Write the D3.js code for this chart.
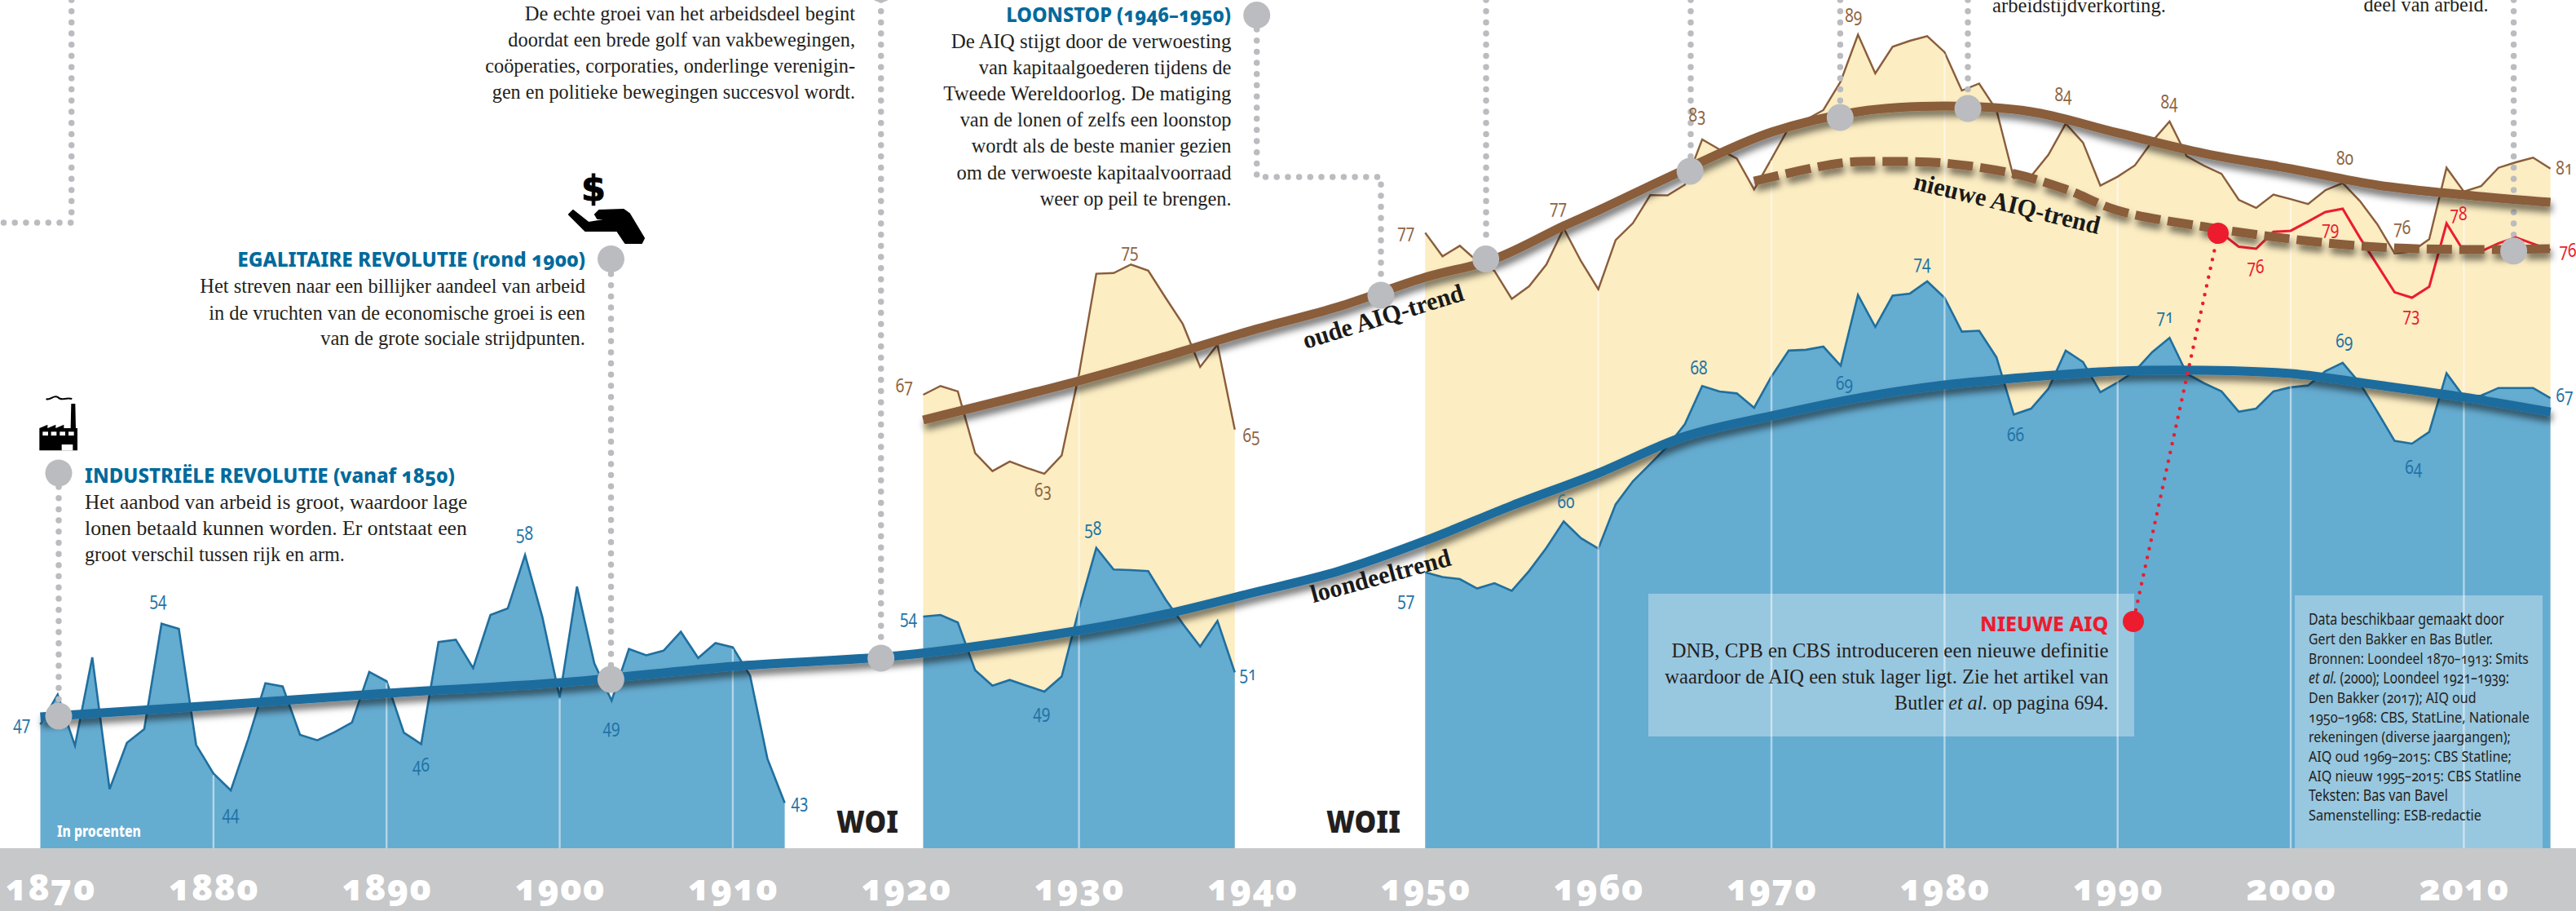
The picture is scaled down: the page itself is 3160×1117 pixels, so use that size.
<!DOCTYPE html>
<html>
<head>
<meta charset="utf-8">
<script src="https://d3js.org/d3.v7.min.js"></script>
<style>
  html, body { margin: 0; padding: 0; background: #fff; overflow: hidden; }
  svg { display: block; }
  .body { font-family: "Liberation Serif", serif; font-size: 26px; fill: #231f20; }
  .title { font-family: "Noto Sans", sans-serif; font-weight: 800; font-size: 25px; font-feature-settings: "onum"; }
  .proc { font-family: "Noto Sans", sans-serif; font-weight: 800; font-size: 19px; fill: #fff; }
  .small { font-family: "Noto Sans", sans-serif; font-size: 19px; fill: #231f20; font-feature-settings: "onum"; }
  .val { font-family: "Noto Sans", sans-serif; font-size: 24px; font-feature-settings: "onum"; }
  .trendname { font-family: "Liberation Serif", serif; font-weight: bold; font-size: 31px; fill: #1a1a1a; }
  .war { font-family: "Noto Sans", sans-serif; font-weight: 900; font-size: 36.5px; fill: #231f20; }
  .tick text { font-family: "Noto Sans", sans-serif; font-weight: 900; font-size: 44px; letter-spacing: 1px; fill: #fff; font-feature-settings: "onum"; }
</style>
</head>
<body>
<div class="chart-holder"></div>
<script>
// loondeel, in procenten, per jaar
const loondeel1870 = [47.72,49.53,46.44,51.79,43.81,46.62,47.44,53.82,53.51,46.49,44.76,43.74,46.82,50.22,50.02,47.10,46.77,47.26,47.84,50.90,50.34,47.23,46.54,52.71,52.85,51.13,54.35,54.74,57.98,54.22,49.37,56.06,51.42,49.17,52.29,51.91,52.19,53.33,51.75,52.65,52.39,50.68,45.66,42.98]
const loondeel1921 = [54.25,54.35,53.89,51.01,50.07,50.42,50.06,49.71,50.62,54.71,58.41,57.10,57.06,57.00,55.29,53.81,52.44,53.99,50.88]
const loondeel1950 = [56.93,56.64,56.52,55.95,56.27,55.81,57.01,58.41,60.01,58.99,58.36,61.04,62.44,63.48,64.56,65.89,68.20,67.87,67.75,66.88,68.77,70.34,70.39,70.58,69.43,73.71,71.77,73.66,73.79,74.53,73.54,71.49,71.54,69.93,66.47,66.83,68.03,70.34,69.65,67.82,68.41,69.10,70.25,71.11,68.94,68.36,67.87,66.64,66.83,67.87,68.12,68.23,69.10,69.60,68.36,66.64,64.88,64.71,65.42,68.97,67.54,67.62,68.08,68.08,68.08,67.46]

// arbeidsinkomensquote (oud)
const aiq1921 = [67.67,68.20,67.87,64.14,63.05,63.63,63.24,62.89,64.00,68.92,74.99,75.03,75.55,75.18,73.54,71.94,69.35,70.70,65.56]
const aiq1950 = [77.47,76.04,76.68,75.75,75.16,73.47,74.23,75.55,77.74,75.75,74.05,77.02,78.05,79.74,79.73,80.37,83.11,82.51,81.96,80.09,81.93,83.82,84.31,84.89,86.62,89.45,87.11,88.72,89.08,89.36,88.39,86.07,86.49,84.89,80.78,80.89,82.18,84.07,82.92,80.32,80.86,81.55,83.00,84.20,82.09,81.52,81.03,79.46,78.97,79.78,79.50,79.20,80.04,80.48,79.38,77.98,76.22,76.34,77.08,81.40,79.96,80.29,81.40,81.73,82.01,81.35]

// nieuwe AIQ 1996-2015
const aiqNieuw1996 = [77.44,76.62,76.50,77.52,77.59,78.15,78.72,78.92,77.16,75.52,73.87,73.54,74.20,78.03,76.34,76.34,76.83,77.19,76.80,76.42]

// trends: [jaar, waarde]
const trendLoondeel = [[1870,48.18],[1880,48.87],[1890,49.61],[1900,50.25],[1910,51.24],[1920,51.93],[1930,53.41],[1935,54.40],[1940,55.68],[1945,57.00],[1950,58.84],[1955,60.96],[1960,62.93],[1965,65.15],[1970,66.39],[1975,67.47],[1980,68.26],[1985,68.75],[1990,69.10],[1995,69.15],[2000,68.95],[2005,68.26],[2010,67.52],[2015,66.63]]
const trendAiqOud = [[1921,66.14],[1930,68.51],[1935,69.99],[1940,71.57],[1945,73.00],[1950,74.77],[1954,75.88],[1958,77.88],[1960,78.82],[1965,81.29],[1970,83.55],[1975,84.79],[1980,85.13],[1985,84.79],[1990,83.51],[1995,82.27],[2000,81.34],[2005,80.35],[2010,79.76],[2015,79.31]]
const trendAiqNieuw = [[1969,80.59],[1974,81.68],[1977,81.78],[1980,81.68],[1984,81.04],[1987,80.10],[1990,78.82],[1995,77.83],[2000,77.09],[2005,76.60],[2010,76.45],[2015,76.50]]

// grijze stippen op de trends
const eventPoints = [[1871.06,48.23],[1902.96,50.45],[1918.56,51.73],[1947.44,73.69],[1953.5,75.88],[1965.3,81.19],[1973.97,84.44],[1981.35,84.98],[2012.88,76.37]]

const yearTicks = [1870,1880,1890,1900,1910,1920,1930,1940,1950,1960,1970,1980,1990,2000,2010]
const gridYears = [1880,1890,1900,1910,1930,1960,1970,1980,1990,2000,2010]

const blueLabels = ['47','54','44','58','46','49','43','54','58','49','51','57','60','68','69','74','71','69','67','66','64']
const brownLabels = ['67','63','75','65','77','77','83','89','84','84','80','76','81']
const redLabels = ['76','79','73','78','76']

const noteTop = ['De echte groei van het arbeidsdeel begint','doordat een brede golf van vakbewegingen,','coöperaties, corporaties, onderlinge verenigin-','gen en politieke bewegingen succesvol wordt.']
const noteEgal = ['Het streven naar een billijker aandeel van arbeid','in de vruchten van de economische groei is een','van de grote sociale strijdpunten.']
const noteInd = ['Het aanbod van arbeid is groot, waardoor lage','lonen betaald kunnen worden. Er ontstaat een','groot verschil tussen rijk en arm.']
const noteStop = ['De AIQ stijgt door de verwoesting','van kapitaalgoederen tijdens de','Tweede Wereldoorlog. De matiging','van de lonen of zelfs een loonstop','wordt als de beste manier gezien','om de verwoeste kapitaalvoorraad','weer op peil te brengen.']
const noteNieuw = ['DNB, CPB en CBS introduceren een nieuwe definitie','waardoor de AIQ een stuk lager ligt. Zie het artikel van','Butler *et al.* op pagina 694.']
const noteData = ['Data beschikbaar gemaakt door','Gert den Bakker en Bas Butler.','Bronnen: Loondeel 1870–1913: Smits','*et al.* (2000); Loondeel 1921–1939:','Den Bakker (2017); AIQ oud','1950–1968: CBS, StatLine, Nationale','rekeningen (diverse jaargangen);','AIQ oud 1969–2015: CBS Statline;','AIQ nieuw 1995–2015: CBS Statline','Teksten: Bas van Bavel','Samenstelling: ESB-redactie']

const width = 3160
const height = 1117
const baseY = 1040

const BLUE = '#65acd1', BLUELINE = '#1f6f9f', TREND_BLUE = '#1b6c9e', CREAM = '#fcedc2', BROWN = '#8a5d3b', GREY = '#bbbcbf', BAND = '#c7c8ca', RED = '#ec1c2e', TITLE = '#006a9c'

const x = d3.scaleLinear().domain([1870, 2015]).range([49.5, 3128.6])
const y = d3.scaleLinear().domain([58, 40.24]).range([680, baseY])

const svg = d3.select('.chart-holder').append('svg').attr('width', width).attr('height', height)

const filt = svg.append('defs').append('filter').attr('id', 'shade')
  .attr('x', '-5%').attr('y', '-30%').attr('width', '110%').attr('height', '170%')
filt.append('feDropShadow').attr('dx', 2).attr('dy', 7).attr('stdDeviation', 4)
  .attr('flood-color', '#000').attr('flood-opacity', 0.55)

function toPoints(values, start) {
  return values.map((d, i) => [start + i, d])
}

const seriesBlue = [toPoints(loondeel1870, 1870), toPoints(loondeel1921, 1921), toPoints(loondeel1950, 1950)]
const seriesBrown = [toPoints(aiq1921, 1921), toPoints(aiq1950, 1950)]

const area = d3.area().x(d => x(d[0])).y0(baseY).y1(d => y(d[1]))
const line = d3.line().x(d => x(d[0])).y(d => y(d[1]))
const smooth = d3.line().x(d => x(d[0])).y(d => y(d[1])).curve(d3.curveCatmullRom)

svg.selectAll('.cream').data(seriesBrown).enter().append('path')
  .attr('d', area).attr('fill', CREAM)
svg.selectAll('.brownline').data(seriesBrown).enter().append('path')
  .attr('d', line).attr('fill', 'none').attr('stroke', BROWN).attr('stroke-width', 2.4)

svg.selectAll('.bluearea').data(seriesBlue).enter().append('path')
  .attr('d', area).attr('fill', BLUE)
svg.selectAll('.blueline').data(seriesBlue).enter().append('path')
  .attr('d', line).attr('fill', 'none').attr('stroke', BLUELINE).attr('stroke-width', 2.6)

// rasterlijnen lopen tot de bovenste reeks van dat jaar
const topValue = new Map()
seriesBlue.concat(seriesBrown).forEach(s => s.forEach(d => {
  topValue.set(d[0], Math.max(topValue.get(d[0]) || 0, d[1]))
}))
svg.selectAll('.grid').data(gridYears).enter().append('line')
  .attr('x1', d => x(d)).attr('x2', d => x(d))
  .attr('y1', baseY).attr('y2', d => y(topValue.get(d)) + 2)
  .attr('stroke', '#fff').attr('stroke-opacity', 0.5).attr('stroke-width', 2.4)

// lichte kaders
svg.append('rect').attr('x', 2022).attr('y', 728).attr('width', 596).attr('height', 175).attr('fill', '#fff').attr('opacity', 0.335)
svg.append('rect').attr('x', 2815).attr('y', 730).attr('width', 304).attr('height', 310).attr('fill', '#fff').attr('opacity', 0.335)

// grijze band en jaren
svg.append('rect').attr('x', 0).attr('y', baseY).attr('width', width).attr('height', height - baseY).attr('fill', BAND)
const axis = d3.axisBottom(x).tickValues(yearTicks).tickFormat(d3.format('d')).tickSize(0)
const axisG = svg.append('g').attr('transform', `translate(0,${baseY})`).call(axis)
axisG.select('.domain').remove()
axisG.selectAll('text').attr('dy', 0).attr('y', 64)
  .attr('dx', d => d === 1870 ? 12 : 0)

// stippellijnen naar de stippen
const dotted = [
  [[87.7, 0], [87.7, 273], [0, 273]],
  [[72, 597], [72, 862]],
  [[749.5, 336], [749.5, 816]],
  [[1080.7, 0], [1080.7, 790]],
  [[1541.7, 36], [1541.7, 217], [1694, 217], [1694, 345]],
  [[1823, 0], [1823, 300]],
  [[2074, 0], [2074, 195]],
  [[2257.4, 0], [2257.4, 130]],
  [[2414, 0], [2414, 118]],
  [[3083.6, 0], [3083.6, 292]]
]
svg.selectAll('.dots').data(dotted).enter().append('path')
  .attr('d', d3.line())
  .attr('fill', 'none').attr('stroke', GREY).attr('stroke-width', 7.5)
  .attr('stroke-linecap', 'round').attr('stroke-dasharray', '0 13.7')

// thin red new AIQ line
svg.append('path').datum(toPoints(aiqNieuw1996, 1996))
  .attr('d', line).attr('fill', 'none').attr('stroke', RED).attr('stroke-width', 3)

// trends
const trendLayer = svg.append('g')
trendLayer.append('path').datum(trendLoondeel).attr('d', smooth).attr('fill', 'none')
  .attr('stroke', TREND_BLUE).attr('stroke-width', 11).attr('filter', 'url(#shade)')
trendLayer.append('path').datum(trendAiqOud).attr('d', smooth).attr('fill', 'none')
  .attr('stroke', BROWN).attr('stroke-width', 11).attr('filter', 'url(#shade)')
trendLayer.append('path').datum(trendAiqNieuw).attr('d', smooth).attr('fill', 'none')
  .attr('stroke', BROWN).attr('stroke-width', 11).attr('stroke-dasharray', '31 9').attr('filter', 'url(#shade)')

// stippen
svg.selectAll('.event').data(eventPoints).enter().append('circle')
  .attr('cx', d => x(d[0])).attr('cy', d => y(d[1])).attr('r', 16.5).attr('fill', GREY)
const headDots = [[72, 580], [749.5, 317.5], [1541.7, 18.6]]
svg.selectAll('.head').data(headDots).enter().append('circle')
  .attr('cx', d => d[0]).attr('cy', d => d[1]).attr('r', 16.5).attr('fill', GREY)
svg.append('circle').attr('cx', 1080.7).attr('cy', -14).attr('r', 16.5).attr('fill', GREY)

// rode verwijzing
svg.append('path').attr('d', 'M2721,286L2617,762').attr('fill', 'none').attr('stroke', RED)
  .attr('stroke-width', 4.5).attr('stroke-linecap', 'round').attr('stroke-dasharray', '0 11')
svg.append('circle').attr('cx', 2721).attr('cy', 286).attr('r', 13).attr('fill', RED)
svg.append('circle').attr('cx', 2617).attr('cy', 762).attr('r', 13).attr('fill', RED)

// schrijft een regel en schaalt die horizontaal naar de gemeten breedte
function fitLine(str, px, py, w, anchor, cls, fill, angle) {
  const t = svg.append('text').attr('class', cls).attr('text-anchor', anchor)
  if (fill) t.attr('fill', fill).style('fill', fill)
  str.split('*').forEach((part, i) => {
    t.append('tspan').text(part).style('font-style', i % 2 ? 'italic' : 'normal')
  })
  const k = w / t.node().getComputedTextLength()
  t.attr('transform', `translate(${px},${py}) rotate(${angle || 0}) scale(${k},1)`)
  return t
}

function block(lines, px, baselines, widths, anchor, cls) {
  lines.forEach((l, i) => fitLine(l, px, baselines[i], widths[i], anchor, cls))
}

block(noteTop, 1049, [24.5, 57, 89, 121], [405.5, 426, 454, 445.5], 'end', 'body')
fitLine('EGALITAIRE REVOLUTIE (rond 1900)', 718, 326.6, 427, 'end', 'title', TITLE)
block(noteEgal, 718, [359, 391.5, 423], [473, 462, 325], 'end', 'body')
fitLine('INDUSTRIËLE REVOLUTIE (vanaf 1850)', 104, 591.5, 454, 'start', 'title', TITLE)
block(noteInd, 104, [624, 656, 688], [469.5, 469, 319], 'start', 'body')
fitLine('LOONSTOP (1946–1950)', 1510, 27, 276, 'end', 'title', TITLE)
block(noteStop, 1510.5, [59.3, 91.3, 123.4, 155.4, 187.4, 219.5, 251.5], [344, 310, 353.5, 333, 319, 337, 235], 'end', 'body')
fitLine('arbeidstijdverkorting.', 2444, 15, 213, 'start', 'body')
fitLine('deel van arbeid.', 3052.5, 14, 153, 'end', 'body')
fitLine('NIEUWE AIQ', 2586.5, 773.6, 157.5, 'end', 'title', RED)
block(noteNieuw, 2586.5, [806, 838, 870], [536, 544.5, 262.5], 'end', 'body')
block(noteData, 2832, [765.7, 789.8, 813.8, 837.8, 861.8, 885.8, 909.8, 933.8, 957.9, 981.9, 1005.9],
  [240, 226, 270, 246, 205.6, 271, 248, 249, 261, 171, 212], 'start', 'small')

fitLine('In procenten', 70, 1026, 103, 'start', 'proc')
fitLine('WOI', 1026, 1020.7, 76, 'start', 'war')
fitLine('WOII', 1627, 1020.7, 91, 'start', 'war')

fitLine('oude AIQ-trend', 1601.7, 428, 205, 'start', 'trendname', null, -17.1)
fitLine('loondeeltrend', 1611, 739.3, 177, 'start', 'trendname', null, -15.2)
fitLine('nieuwe AIQ-trend', 2346, 231.7, 234, 'start', 'trendname', null, 13.7)

// waardelabels (midden van het label)
const bluePos = [[26.7,889],[194,737],[283,999],[643.5,656],[516.5,940],[750,893],[981,985],[1114.4,759],[1340.8,650],[1277.7,875],[1530.9,828],[1724.7,737],[1921,617],[2084,453],[2262.6,472],[2358,324],[2656,390],[2875.7,420],[3146,487],[2472.6,535],[2960.8,575]]
const brownPos = [[1109.3,475],[1279.6,603],[1386,309.6],[1535,535.8],[1724.7,285.5],[1911.6,256],[2082,143],[2273.7,21],[2531,118],[2661,127],[2876.5,196],[2946.7,281],[3145.7,208]]
const redPos = [[2767,329],[2858.7,282],[2958,388],[3016,264],[3150,309]]

function valueLabels(texts, pos, color) {
  svg.selectAll(null).data(texts).enter().append('text')
    .attr('class', 'val').attr('text-anchor', 'middle').attr('fill', color)
    .attr('transform', (d, i) => `translate(${pos[i][0]},${pos[i][1] + 6}) scale(0.8,1)`)
    .text(d => d)
}
valueLabels(blueLabels, bluePos, '#1f74a6')
valueLabels(brownLabels, brownPos, '#8f6543')
valueLabels(redLabels, redPos, RED)

// pictogrammen, getekend op 3x en terug geschaald
const factory = svg.append('g').attr('transform', 'translate(35,475) scale(0.3333)').attr('fill', '#000')
factory.append('path').attr('d', 'M40,232V150L70,137V150L100,137V150L130,137V150L155,150L157,60H172L174,150H180V232Z')
factory.selectAll('.win').data([52, 83, 115, 147]).enter().append('rect')
  .attr('x', d => d).attr('y', 163).attr('width', 20).attr('height', 14).attr('fill', '#fff')
factory.append('rect').attr('x', 122).attr('y', 210).attr('width', 41).attr('height', 22).attr('fill', '#fff')
factory.append('path').attr('d', 'M65,42C80,50 92,25 108,36C122,52 135,35 160,42')
  .attr('fill', 'none').attr('stroke', '#000').attr('stroke-width', 6)

svg.append('text').attr('x', 728).attr('y', 246).attr('text-anchor', 'middle')
  .style('font-family', '"DejaVu Sans"').style('font-weight', 'bold').style('font-size', '43px')
  .attr('stroke', '#000').attr('stroke-width', 1).text('$')
svg.append('path').attr('d', 'M698,263L703,258L722,273L752,268L733,268L730,263L735,258L765,257L772,262L790,292L787,298L767,298L757,283L718,283Z').attr('fill', '#000').attr('stroke', '#000').attr('stroke-width', 2).attr('stroke-linejoin', 'round')
</script>
</body>
</html>
